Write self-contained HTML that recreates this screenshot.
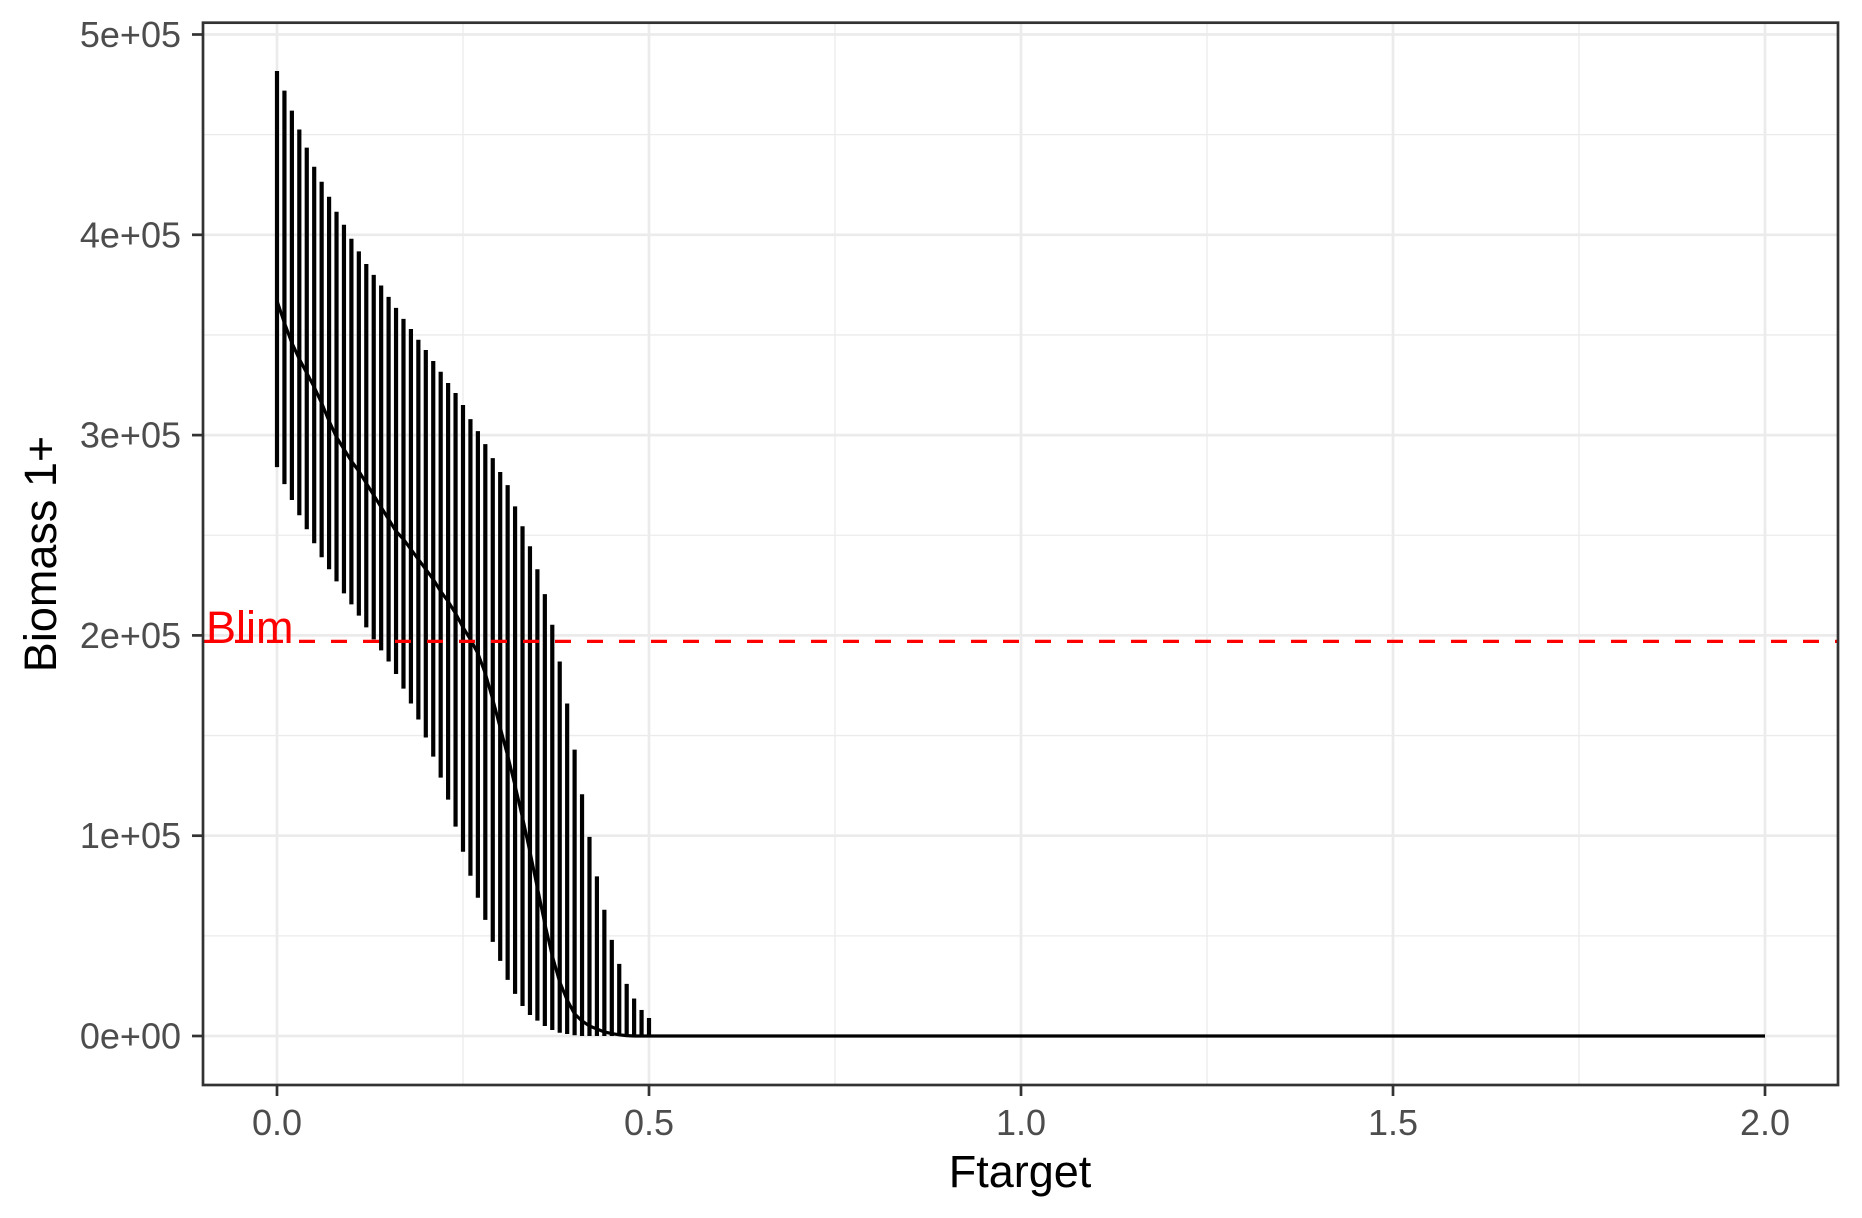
<!DOCTYPE html>
<html><head><meta charset="utf-8"><style>
html,body{margin:0;padding:0;background:#fff;}
svg{display:block;font-family:"Liberation Sans",Arial,sans-serif;}
</style></head><body>
<svg id="chart" width="1862" height="1218" viewBox="0 0 1862 1218" xmlns="http://www.w3.org/2000/svg">
<rect x="0" y="0" width="1862" height="1218" fill="#fff"/>
<g id="grid"></g>
<g id="marks"></g>
<g id="axes"></g>
</svg>
<script>
const upperVals=[481.8,472,462,452.6,443.5,434,426.5,419,411.5,405,398,391.7,385.4,380,374.7,369,363.5,358,353,347.6,342.5,337,331.6,326,321,315,308,302,295.5,288.5,281.6,275,264.4,254.5,244.5,233,220.6,205.3,187,166,143,120.7,99.4,79.7,63,48,36,26,18.7,13,9];
const lowerVals=[284,275.5,267.6,260,253,246,239,233,227,221,215.5,209.9,204,198,192.5,187,180.7,173.4,166,158,149,139.5,129,118,104.5,92,80,69,58,47,37.5,28,21,15,10.5,7.7,5,3,1.6,1,0.4,0,0,0,0,0,0,0,0,0,0];
const medianVals=[367,356,346,338,331,324,316,307,299,293,287,282,276,270,264,258,252,248,243,238,233,228,222,217,211,204,198,191,181,168,154,140,125,109,92,74,56,40,27,18,11,7.5,5,3.5,2,1.2,0.6,0.2,0,0,0];
const tailF=[1.0,1.5,2.0];
const tailVals=[0,0,0];
const blimVal=197;
const xTicks=[0,0.5,1.0,1.5,2.0];
const xTickLabels=["0.0","0.5","1.0","1.5","2.0"];
const yTicks=[0,100,200,300,400,500];
const yTickLabels=["0e+00","1e+05","2e+05","3e+05","4e+05","5e+05"];

const PL=203,PR=1838,PT=22.7,PB=1085;
const X=f=>277+f*744;
const Y=v=>1036-v*2.003;
const NS="http://www.w3.org/2000/svg";
function mk(tag,attrs,parent){const e=document.createElementNS(NS,tag);for(const k in attrs)e.setAttribute(k,attrs[k]);parent.appendChild(e);return e;}
const grid=document.getElementById('grid'),marks=document.getElementById('marks'),axes=document.getElementById('axes');

for(let i=0;i<xTicks.length-1;i++){const m=(xTicks[i]+xTicks[i+1])/2;const l=mk('line',{x1:X(m),x2:X(m),y1:PT,y2:PB,stroke:'#ebebeb','stroke-width':1.3},grid);

}
for(let i=0;i<yTicks.length-1;i++){const m=(yTicks[i]+yTicks[i+1])/2;const l=mk('line',{x1:PL,x2:PR,y1:Y(m),y2:Y(m),stroke:'#ebebeb','stroke-width':1.3},grid);

}
xTicks.forEach(t=>{const l=mk('line',{x1:X(t),x2:X(t),y1:PT,y2:PB,stroke:'#ebebeb','stroke-width':2.7},grid);

});
yTicks.forEach(t=>{const l=mk('line',{x1:PL,x2:PR,y1:Y(t),y2:Y(t),stroke:'#ebebeb','stroke-width':2.7},grid);

});

upperVals.forEach((u,i)=>{const f=i*0.01;const l=mk('line',{x1:X(f),x2:X(f),y1:Y(u),y2:Y(lowerVals[i]),stroke:'#000','stroke-width':4.2},marks);

});
let pts=medianVals.map((v,i)=>X(i*0.01)+','+Y(v));
tailF.forEach((f,i)=>pts.push(X(f)+','+Y(tailVals[i])));
const ml=mk('polyline',{points:pts.join(' '),fill:'none',stroke:'#000','stroke-width':3.2},marks);


const bl=mk('line',{x1:PL,x2:PR,y1:Y(blimVal),y2:Y(blimVal),stroke:'#ff0000','stroke-width':3.2,'stroke-dasharray':'16 16'},marks);


const bt=mk('text',{x:206,y:643,fill:'#ff0000','font-size':45},marks);bt.textContent='Blim';



const pb=mk('rect',{x:PL,y:PT,width:PR-PL,height:PB-PT,fill:'none',stroke:'#333','stroke-width':2.7},axes);


xTicks.forEach((t,i)=>{const l=mk('line',{x1:X(t),x2:X(t),y1:PB,y2:PB+11,stroke:'#333','stroke-width':2.7},axes);


const tx=mk('text',{x:X(t),y:1135,'text-anchor':'middle',fill:'#4d4d4d','font-size':36},axes);tx.textContent=xTickLabels[i];

});
yTicks.forEach((t,i)=>{const l=mk('line',{x1:PL-11,x2:PL,y1:Y(t),y2:Y(t),stroke:'#333','stroke-width':2.7},axes);


const tx=mk('text',{x:181,y:Y(t)+12.5,'text-anchor':'end',fill:'#4d4d4d','font-size':36},axes);tx.textContent=yTickLabels[i];

});
const xt=mk('text',{x:1020,y:1187,'text-anchor':'middle',fill:'#000','font-size':45},axes);xt.textContent='Ftarget';


const yt=mk('text',{x:0,y:0,'text-anchor':'middle',fill:'#000','font-size':45,transform:'translate(56,554) rotate(-90)'},axes);yt.textContent='Biomass 1+';


</script>
</body></html>
